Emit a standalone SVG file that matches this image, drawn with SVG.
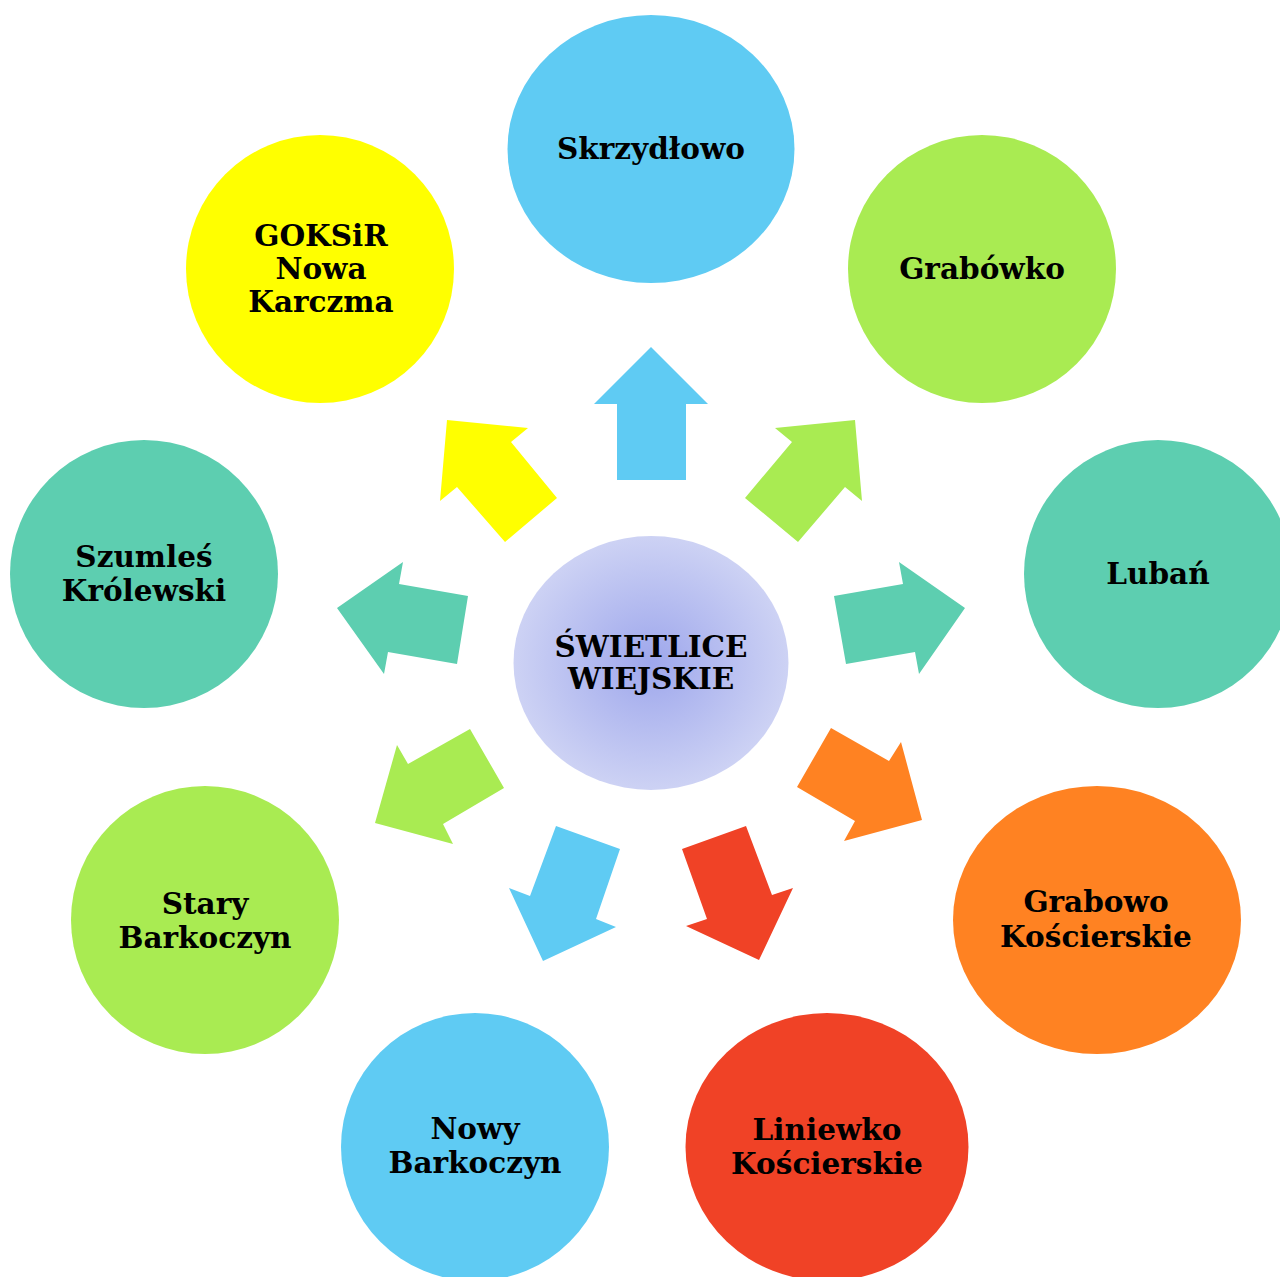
<svg xmlns="http://www.w3.org/2000/svg" width="1280" height="1277" viewBox="0 0 1280 1277">
<style>
text{font-family:"DejaVu Serif","Liberation Serif",serif;font-weight:bold;font-size:29.5px;fill:#000;text-anchor:middle}
.blue{fill:#5FCBF3}.green{fill:#A9EB52}.yellow{fill:#FFFF00}.teal{fill:#5DCEB0}.orange{fill:#FF8222}.red{fill:#F04226}
</style>
<defs>
<radialGradient id="cg" cx="0.5" cy="0.5" r="0.5">
<stop offset="0" stop-color="#9EA7EC"/>
<stop offset="1" stop-color="#CDD2F4"/>
</radialGradient>
</defs>
<rect width="1280" height="1277" fill="#fff"/>
<g id="connectors">
<polygon class="blue" points="651,347 708,404 686,404 686,480 617,480 617,404 594,404"/>
<polygon class="yellow" points="447,420 528,428 511,442 557,498 505,542 457,487 440,501"/>
<polygon class="green" points="855,420 862,501 845,487 798,542 745,498 792,442 775,428"/>
<polygon class="teal" points="337,608 403,562 399,584 468,596 457,664 388,652 384,674"/>
<polygon class="teal" points="965,608 899,562 903,584 834,596 846,664 915,652 919,674"/>
<polygon class="green" points="470,729 504,788 443,824 453,844 375,823 397,745 408,764"/>
<polygon class="orange" points="831,728 889,761 901,742 922,820 844,841 855,821 797,787"/>
<polygon class="blue" points="556,826 620,849 596,919 616,927 543,961 509,888 530,896"/>
<polygon class="red" points="746,826 772,895 793,888 759,960 686,926 707,919 682,849"/>
</g>
<g id="center">
<ellipse cx="651" cy="663" rx="137.5" ry="127" fill="url(#cg)"/>
<text x="651" y="657">ŚWIETLICE</text>
<text x="651" y="689">WIEJSKIE</text>
</g>
<g id="skrzydlowo">
<ellipse class="blue" cx="651" cy="149" rx="143.5" ry="134"/>
<text x="651" y="159">Skrzydłowo</text>
</g>
<g id="grabowko">
<circle class="green" cx="982" cy="269" r="134"/>
<text x="982" y="279">Grabówko</text>
</g>
<g id="goksir">
<circle class="yellow" cx="320" cy="269" r="134"/>
<text x="321" y="246">GOKSiR</text>
<text x="321" y="279">Nowa</text>
<text x="321" y="312">Karczma</text>
</g>
<g id="luban">
<circle class="teal" cx="1158" cy="574" r="134"/>
<text x="1158" y="584">Lubań</text>
</g>
<g id="szumles">
<circle class="teal" cx="144" cy="574" r="134"/>
<text x="144" y="567">Szumleś</text>
<text x="144" y="601">Królewski</text>
</g>
<g id="stary">
<circle class="green" cx="205" cy="920" r="134"/>
<text x="205" y="914">Stary</text>
<text x="205" y="948">Barkoczyn</text>
</g>
<g id="grabowo">
<ellipse class="orange" cx="1097" cy="920" rx="144" ry="134"/>
<text x="1096" y="912">Grabowo</text>
<text x="1096" y="947">Kościerskie</text>
</g>
<g id="nowy">
<circle class="blue" cx="475" cy="1147" r="134"/>
<text x="475" y="1139">Nowy</text>
<text x="475" y="1173">Barkoczyn</text>
</g>
<g id="liniewko">
<ellipse class="red" cx="827" cy="1147" rx="141.5" ry="134"/>
<text x="827" y="1140">Liniewko</text>
<text x="827" y="1174">Kościerskie</text>
</g>
</svg>
